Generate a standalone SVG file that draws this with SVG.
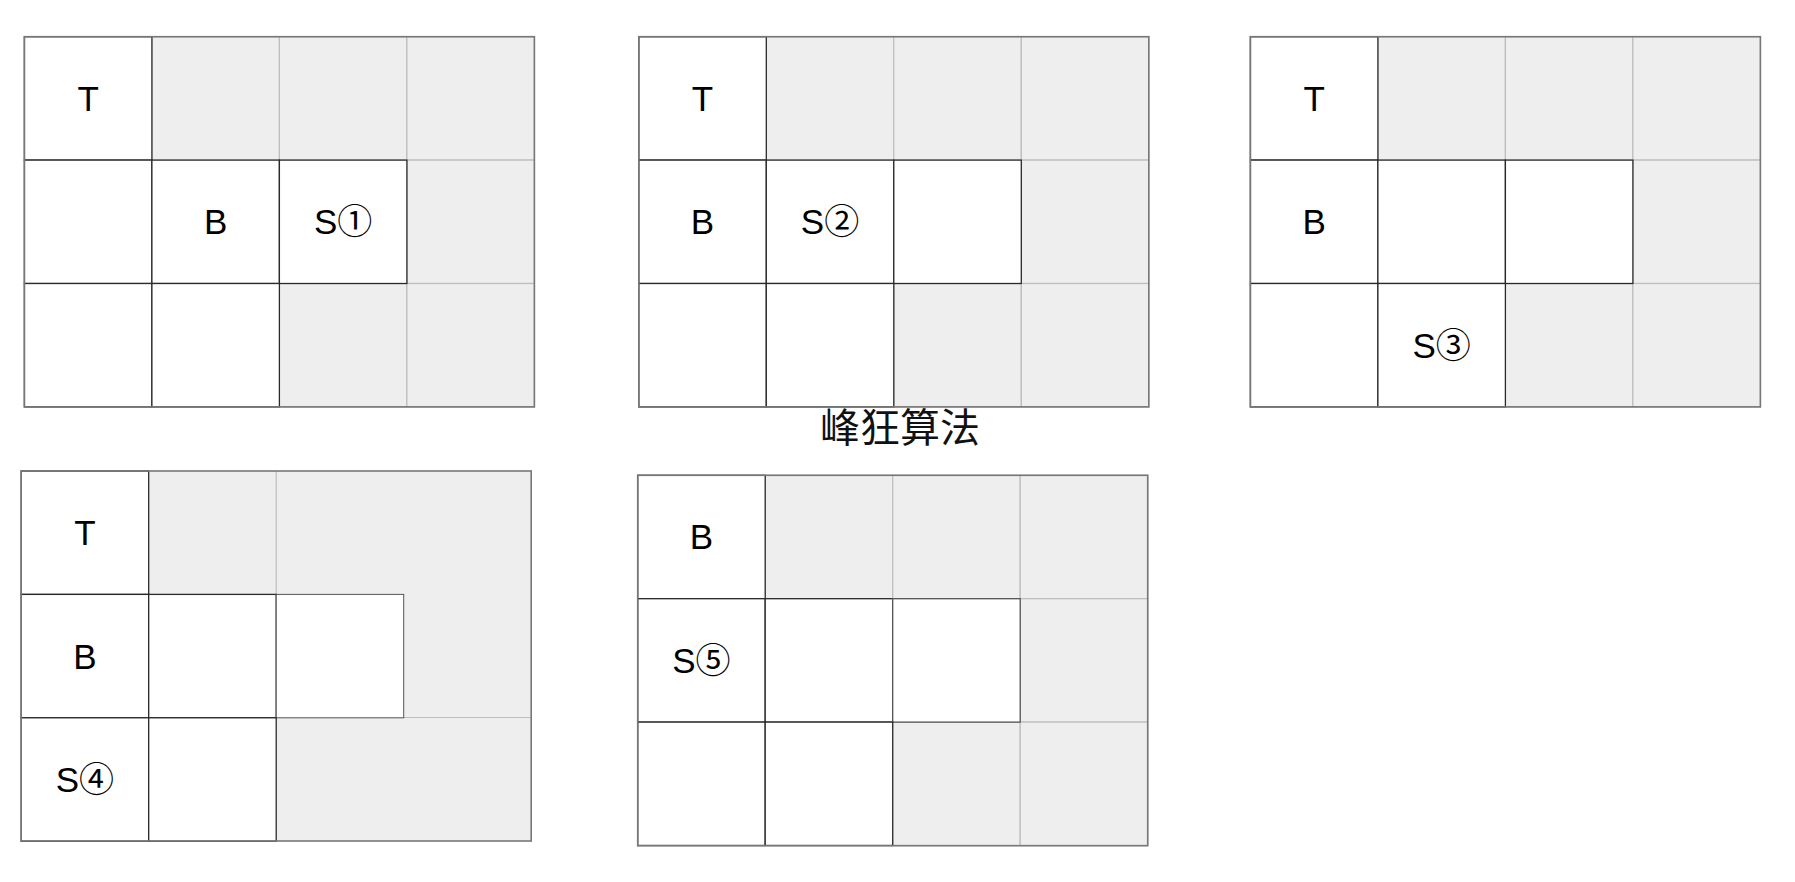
<svg xmlns="http://www.w3.org/2000/svg" width="1795" height="882" viewBox="0 0 1795 882">
<style>
.bg{fill:#ffffff}
.g{fill:#eeeeee;stroke:#bdbdbd;stroke-width:1.2}
.w{fill:#ffffff;stroke:#2a2a2a;stroke-width:1.3}
.gl{stroke:#bdbdbd;stroke-width:1.2;fill:none}
.ob{fill:none;stroke:#777777;stroke-width:1.6}
.t{font-family:"Liberation Sans","Noto Sans CJK SC",sans-serif;font-size:35px;fill:#000;text-anchor:middle}
.title{font-family:"Noto Sans CJK SC","Liberation Sans",sans-serif;font-size:40px;fill:#111;text-anchor:middle}
</style>
<rect class="bg" x="0" y="0" width="1795" height="882"/>

<g id="grid1" transform="translate(24.4,36.7)">
<rect class="g" x="127.5" y="0" width="127.5" height="123.4"/>
<rect class="g" x="255" y="0" width="127.5" height="123.4"/>
<rect class="g" x="382.5" y="0" width="127.5" height="123.4"/>
<rect class="g" x="382.5" y="123.4" width="127.5" height="123.4"/>
<rect class="g" x="255" y="246.8" width="127.5" height="123.4"/>
<rect class="g" x="382.5" y="246.8" width="127.5" height="123.4"/>
<rect class="w" x="0" y="0" width="127.5" height="123.4"/>
<rect class="w" x="0" y="123.4" width="127.5" height="123.4"/>
<rect class="w" x="127.5" y="123.4" width="127.5" height="123.4"/>
<rect class="w" x="255" y="123.4" width="127.5" height="123.4"/>
<rect class="w" x="0" y="246.8" width="127.5" height="123.4"/>
<rect class="w" x="127.5" y="246.8" width="127.5" height="123.4"/>
<rect class="ob" x="0" y="0" width="510" height="370.2"/>
<text class="t" x="63.7" y="74">T</text>
<text class="t" x="191.2" y="197.5">B</text>
<text class="t" x="318.7" y="197.5">S①</text>
</g>

<g id="grid2" transform="translate(638.8,36.7)">
<rect class="g" x="127.5" y="0" width="127.5" height="123.4"/>
<rect class="g" x="255" y="0" width="127.5" height="123.4"/>
<rect class="g" x="382.5" y="0" width="127.5" height="123.4"/>
<rect class="g" x="382.5" y="123.4" width="127.5" height="123.4"/>
<rect class="g" x="255" y="246.8" width="127.5" height="123.4"/>
<rect class="g" x="382.5" y="246.8" width="127.5" height="123.4"/>
<rect class="w" x="0" y="0" width="127.5" height="123.4"/>
<rect class="w" x="0" y="123.4" width="127.5" height="123.4"/>
<rect class="w" x="127.5" y="123.4" width="127.5" height="123.4"/>
<rect class="w" x="255" y="123.4" width="127.5" height="123.4"/>
<rect class="w" x="0" y="246.8" width="127.5" height="123.4"/>
<rect class="w" x="127.5" y="246.8" width="127.5" height="123.4"/>
<rect class="ob" x="0" y="0" width="510" height="370.2"/>
<text class="t" x="63.7" y="74">T</text>
<text class="t" x="63.7" y="197.5">B</text>
<text class="t" x="191.2" y="197.5">S②</text>
</g>

<g id="grid3" transform="translate(1250.4,36.7)">
<rect class="g" x="127.5" y="0" width="127.5" height="123.4"/>
<rect class="g" x="255" y="0" width="127.5" height="123.4"/>
<rect class="g" x="382.5" y="0" width="127.5" height="123.4"/>
<rect class="g" x="382.5" y="123.4" width="127.5" height="123.4"/>
<rect class="g" x="255" y="246.8" width="127.5" height="123.4"/>
<rect class="g" x="382.5" y="246.8" width="127.5" height="123.4"/>
<rect class="w" x="0" y="0" width="127.5" height="123.4"/>
<rect class="w" x="0" y="123.4" width="127.5" height="123.4"/>
<rect class="w" x="127.5" y="123.4" width="127.5" height="123.4"/>
<rect class="w" x="255" y="123.4" width="127.5" height="123.4"/>
<rect class="w" x="0" y="246.8" width="127.5" height="123.4"/>
<rect class="w" x="127.5" y="246.8" width="127.5" height="123.4"/>
<rect class="ob" x="0" y="0" width="510" height="370.2"/>
<text class="t" x="63.7" y="74">T</text>
<text class="t" x="63.7" y="197.5">B</text>
<text class="t" x="191.2" y="321">S③</text>
</g>

<text id="title" class="title" x="900" y="442">峰狂算法</text>

<g id="grid4" transform="translate(21.2,471)">
<rect class="g" x="0" y="0" width="510" height="370" style="stroke:none"/>
<line class="gl" x1="255" y1="0" x2="255" y2="123.4"/>
<line class="gl" x1="255" y1="246.5" x2="510" y2="246.5"/>
<rect class="w" x="0" y="0" width="127.5" height="123.4"/>
<rect class="w" x="0" y="123.4" width="127.5" height="123.4"/>
<rect class="w" x="127.5" y="123.4" width="127.5" height="123.4"/>
<rect class="w" x="255" y="123.4" width="127.5" height="123.4" style="stroke:#555;stroke-width:1"/>
<rect class="w" x="0" y="246.8" width="127.5" height="123.4"/>
<rect class="w" x="127.5" y="246.8" width="127.5" height="123.4"/>
<rect class="ob" x="0" y="0" width="510" height="370"/>
<text class="t" x="63.7" y="74">T</text>
<text class="t" x="63.7" y="197.5">B</text>
<text class="t" x="63.7" y="321">S④</text>
</g>

<g id="grid5" transform="translate(637.7,475.3)">
<rect class="g" x="127.5" y="0" width="127.5" height="123.4"/>
<rect class="g" x="255" y="0" width="127.5" height="123.4"/>
<rect class="g" x="382.5" y="0" width="127.5" height="123.4"/>
<rect class="g" x="382.5" y="123.4" width="127.5" height="123.4"/>
<rect class="g" x="255" y="246.8" width="127.5" height="123.4"/>
<rect class="g" x="382.5" y="246.8" width="127.5" height="123.4"/>
<rect class="w" x="0" y="0" width="127.5" height="123.4"/>
<rect class="w" x="0" y="123.4" width="127.5" height="123.4"/>
<rect class="w" x="127.5" y="123.4" width="127.5" height="123.4"/>
<rect class="w" x="255" y="123.4" width="127.5" height="123.4" style="stroke:#555"/>
<rect class="w" x="0" y="246.8" width="127.5" height="123.4"/>
<rect class="w" x="127.5" y="246.8" width="127.5" height="123.4"/>
<rect class="ob" x="0" y="0" width="510" height="370.4"/>
<text class="t" x="63.7" y="74">B</text>
<text class="t" x="63.7" y="197.5">S⑤</text>
</g>

<g id="connectors"/>
</svg>
